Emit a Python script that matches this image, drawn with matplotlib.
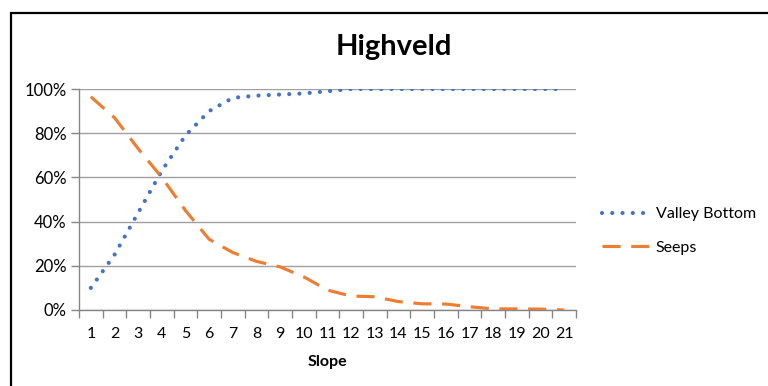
import matplotlib
matplotlib.use("Agg")
import matplotlib.pyplot as plt
from matplotlib.patches import Rectangle
from matplotlib.ticker import FixedLocator, FuncFormatter

plt.rcParams['font.family'] = ['Lato', 'DejaVu Sans']

slope = list(range(1, 22))
valley_bottom = [0.10, 0.25, 0.44, 0.63, 0.79, 0.90, 0.96, 0.97, 0.975, 0.98, 0.99,
                 1.0, 1.0, 1.0, 1.0, 1.0, 1.0, 1.0, 1.0, 1.0, 1.0]
seeps = [0.965, 0.87, 0.73, 0.60, 0.45, 0.32, 0.26, 0.22, 0.195, 0.15, 0.09,
         0.063, 0.06, 0.038, 0.028, 0.027, 0.015, 0.005, 0.005, 0.004, 0.0]
series_names = ["Valley Bottom", "Seeps"]
title = "Highveld"
xlabel = "Slope"

W, H = 768, 386
fig = plt.figure(figsize=(W / 100, H / 100), dpi=100)
ax = fig.add_axes([79 / W, 76 / H, (576 - 79) / W, 221 / H])

ax.plot(slope, valley_bottom, color='#4472C4', lw=3.0, linestyle=(0, (0.01, 2.45)),
        dash_capstyle='round', solid_capstyle='round', label=series_names[0], zorder=3)
ax.plot(slope, seeps, color='#ED7D31', lw=2.25, linestyle=(0, (5.8, 3.4)),
        dash_capstyle='butt', label=series_names[1], zorder=3)

ax.set_xlim(0.5, 21.5)
ax.set_ylim(0, 1.0)
ax.yaxis.set_major_locator(FixedLocator([0, 0.2, 0.4, 0.6, 0.8, 1.0]))
ax.yaxis.set_major_formatter(FuncFormatter(lambda v, p: f"{int(round(v * 100))}%"))
ax.set_xticks(slope)
ax.set_xticklabels([str(s) for s in slope])
ax.set_xticks([s + 0.5 for s in range(0, 22)], minor=True)
ax.tick_params(axis='x', which='major', length=0, pad=12, labelsize=11.5, colors='#000000')
ax.tick_params(axis='x', which='minor', length=6, color='#868686', width=1)
ax.tick_params(axis='y', which='major', length=6, color='#868686', width=1, labelsize=12, pad=3)

ax.grid(axis='y', color='#a0a0a0', lw=1)
ax.set_axisbelow(True)
for s in ['top', 'right']:
    ax.spines[s].set_visible(False)
for s in ['left', 'bottom']:
    ax.spines[s].set_color('#868686')
    ax.spines[s].set_linewidth(1)

ax.set_xlabel(xlabel, fontsize=11.5, fontweight='bold', labelpad=10)
fig.text(394 / W, 1 - 47 / H, title, ha='center', va='center', fontsize=21, fontweight='bold')

leg = fig.legend(loc='center left', bbox_to_anchor=(588 / W, 1 - 231 / H), frameon=False,
                 fontsize=11.5, handlelength=3.0, labelspacing=1.2, handletextpad=0.35)

fig.patches.append(Rectangle((10.5 / W, -0.1), 1.2, (1 - 13 / H) + 0.1, transform=fig.transFigure,
                             fill=False, edgecolor='black', lw=1.6, figure=fig))

fig.savefig("out.png", dpi=100)
